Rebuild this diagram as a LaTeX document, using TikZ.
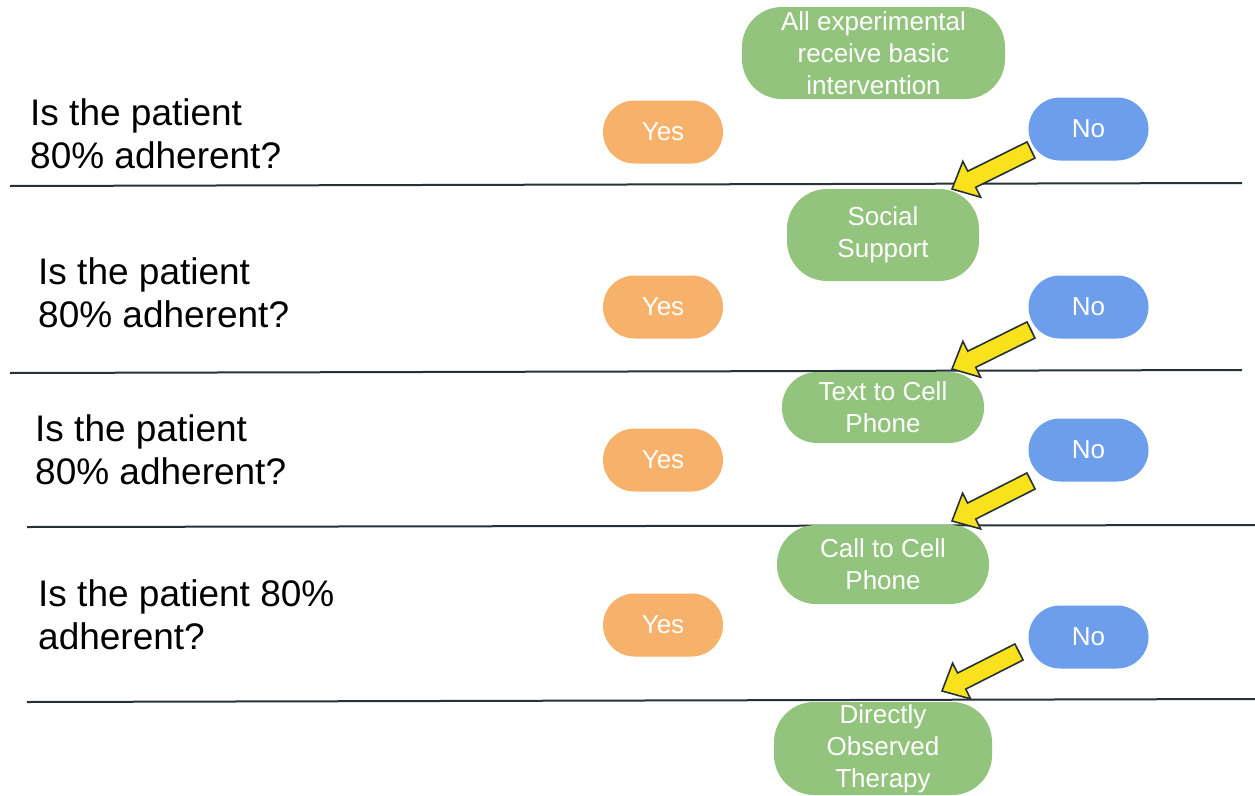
\documentclass[tikz,border=0pt]{standalone}
\usepackage{fontspec}
\setmainfont{Liberation Sans}
\usetikzlibrary{calc}

\definecolor{pillgreen}{HTML}{93C47D}
\definecolor{pillorange}{HTML}{F6B26B}
\definecolor{pillblue}{HTML}{6D9EEB}
\definecolor{arrowyellow}{HTML}{F7E21C}
\definecolor{inkdark}{HTML}{263238}

% block arrow from a tail coordinate to a tip coordinate
\newcommand\blockarrow[2]{%
  \coordinate (#2-neck) at ($(#2)!22pt!(#1)$);
  \draw[yellowarrow]
    ($(#1)!9pt!90:(#2)$) -- ($(#2-neck)!9pt!90:(#2)$) --
    ($(#2-neck)!20pt!90:(#2)$) -- (#2) --
    ($(#2-neck)!20pt!-90:(#2)$) -- ($(#2-neck)!9pt!-90:(#2)$) --
    ($(#1)!9pt!-90:(#2)$) -- cycle;%
}

\begin{document}
\begin{tikzpicture}[x=1pt,y=-1pt,
  pilltext/.style={text=white, align=center, inner sep=0pt,
    font=\fontsize{26}{32}\selectfont},
  stage/.style={pilltext, fill=pillgreen, rounded corners=40pt},
  answer/.style={pilltext, minimum width=120pt, minimum height=63pt,
    rounded corners=31.5pt},
  yesbox/.style={answer, fill=pillorange},
  nobox/.style={answer, fill=pillblue},
  question/.style={anchor=north west, inner sep=0pt, align=left,
    font=\fontsize{37}{43}\selectfont},
  divider/.style={draw=inkdark, line width=2pt},
  yellowarrow/.style={fill=arrowyellow, draw=inkdark, line width=1.6pt,
    line join=miter},
]
\useasboundingbox (0,0) rectangle (1255,795);
\fill[white] (0,0) rectangle (1255,795);

% horizontal separators between the rounds
\coordinate (r1w) at (10,186);   \coordinate (r1e) at (1242,183);
\coordinate (r2w) at (10,373);   \coordinate (r2e) at (1242,370);
\coordinate (r3w) at (27,527);   \coordinate (r3e) at (1255,525);
\coordinate (r4w) at (27,702);   \coordinate (r4e) at (1255,699);
\draw[divider] (r1w) -- (r1e);
\draw[divider] (r2w) -- (r2e);
\draw[divider] (r3w) -- (r3e);
\draw[divider] (r4w) -- (r4e);

% questions
\node[question] (q1) at (30,98)  {Is the patient\\80\% adherent?};
\node[question] (q2) at (38,257) {Is the patient\\80\% adherent?};
\node[question] (q3) at (35,414) {Is the patient\\80\% adherent?};
\node[question] (q4) at (38,579) {Is the patient 80\%\\adherent?};

% interventions
\node[stage, minimum width=263pt, minimum height=92pt] (g0) at (873.5,53)
  {All experimental\\receive basic\\intervention};
\node[stage, minimum width=192pt, minimum height=92pt] (g1) at (883,235)
  {Social\\Support};
\node[stage, minimum width=202pt, minimum height=71pt, rounded corners=35pt] (g2) at (883,407.5)
  {Text to Cell\\Phone};
\node[stage, minimum width=212pt, minimum height=79pt, rounded corners=39pt] (g3) at (883,564.5)
  {Call to Cell\\Phone};
\node[stage, minimum width=218pt, minimum height=93pt] (g4) at (883,748.5)
  {Directly\\Observed\\Therapy};

% answers
\node[yesbox] (y1) at (663,132) {Yes};
\node[yesbox] (y2) at (663,307) {Yes};
\node[yesbox] (y3) at (663,460) {Yes};
\node[yesbox] (y4) at (663,625) {Yes};
\node[nobox] (n1) at (1088.5,129) {No};
\node[nobox] (n2) at (1088.5,307) {No};
\node[nobox] (n3) at (1088.5,450) {No};
\node[nobox] (n4) at (1088.5,637) {No};

% "No" leads to the next intervention
\coordinate (t1) at (1031,150); \coordinate (h1) at (952,189);
\coordinate (t2) at (1031,330); \coordinate (h2) at (952,369);
\coordinate (t3) at (1031,481); \coordinate (h3) at (952,521);
\coordinate (t4) at (1019,652); \coordinate (h4) at (942,691);
\blockarrow{t1}{h1}
\blockarrow{t2}{h2}
\blockarrow{t3}{h3}
\blockarrow{t4}{h4}
\end{tikzpicture}
\end{document}
